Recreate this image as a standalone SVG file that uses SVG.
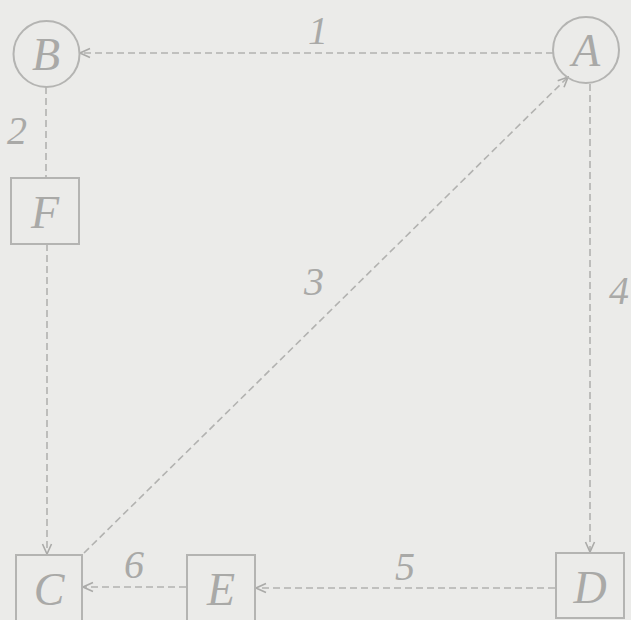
<svg xmlns="http://www.w3.org/2000/svg" width="631" height="620" viewBox="0 0 631 620">
<style>
.node{fill:none;stroke:#b4b4b2;stroke-width:2}
.lbl{font-family:"Liberation Serif",serif;font-style:italic;fill:#a9a9a7;font-size:46px;text-anchor:middle}
.num{font-family:"Liberation Serif",serif;font-style:italic;fill:#a9a9a7;font-size:40px;text-anchor:middle}
.edge{fill:none;stroke:#b2b2b0;stroke-width:1.6;stroke-dasharray:7 4}
</style>
<defs>
<marker id="arr" viewBox="0 0 12 12" refX="11" refY="6" markerWidth="12" markerHeight="12" markerUnits="userSpaceOnUse" orient="auto">
<path d="M1,1.5 L11,6 L1,10.5" fill="none" stroke="#aaaaa8" stroke-width="1.6"/>
</marker>
</defs>
<rect width="631" height="620" fill="#ebebe9"/>
<g id="connectors">
<line class="edge" x1="553" y1="53" x2="80" y2="53" marker-end="url(#arr)"/>
<line class="edge" x1="46" y1="87" x2="46" y2="178" stroke-dasharray="9 3 2 3"/>
<line class="edge" x1="47" y1="244" x2="47" y2="554" marker-end="url(#arr)"/>
<line class="edge" x1="84" y1="553" x2="568" y2="77" stroke-dasharray="2.5 1" marker-end="url(#arr)"/>
<line class="edge" x1="590" y1="84" x2="590" y2="552" marker-end="url(#arr)"/>
<line class="edge" x1="555" y1="588" x2="256" y2="588" marker-end="url(#arr)"/>
<line class="edge" x1="186" y1="587" x2="83" y2="587" marker-end="url(#arr)"/>
<text class="num" x="318" y="44">1</text>
<text class="num" x="17" y="144">2</text>
<text class="num" x="314" y="295">3</text>
<text class="num" x="619" y="304">4</text>
<text class="num" x="405" y="580">5</text>
<text class="num" x="134" y="578">6</text>
</g>
<g id="node-B"><circle class="node" cx="46.5" cy="54" r="33"/><text class="lbl" x="46" y="70">B</text></g>
<g id="node-A"><circle class="node" cx="586" cy="50" r="33"/><text class="lbl" x="586" y="66">A</text></g>
<g id="node-F"><rect class="node" x="11" y="178" width="68" height="66"/><text class="lbl" x="45" y="228">F</text></g>
<g id="node-C"><rect class="node" x="16" y="555" width="66" height="66"/><text class="lbl" x="49" y="605">C</text></g>
<g id="node-E"><rect class="node" x="187" y="555" width="68" height="66"/><text class="lbl" x="221" y="605">E</text></g>
<g id="node-D"><rect class="node" x="556" y="553" width="68" height="65"/><text class="lbl" x="590" y="603">D</text></g>
</svg>
